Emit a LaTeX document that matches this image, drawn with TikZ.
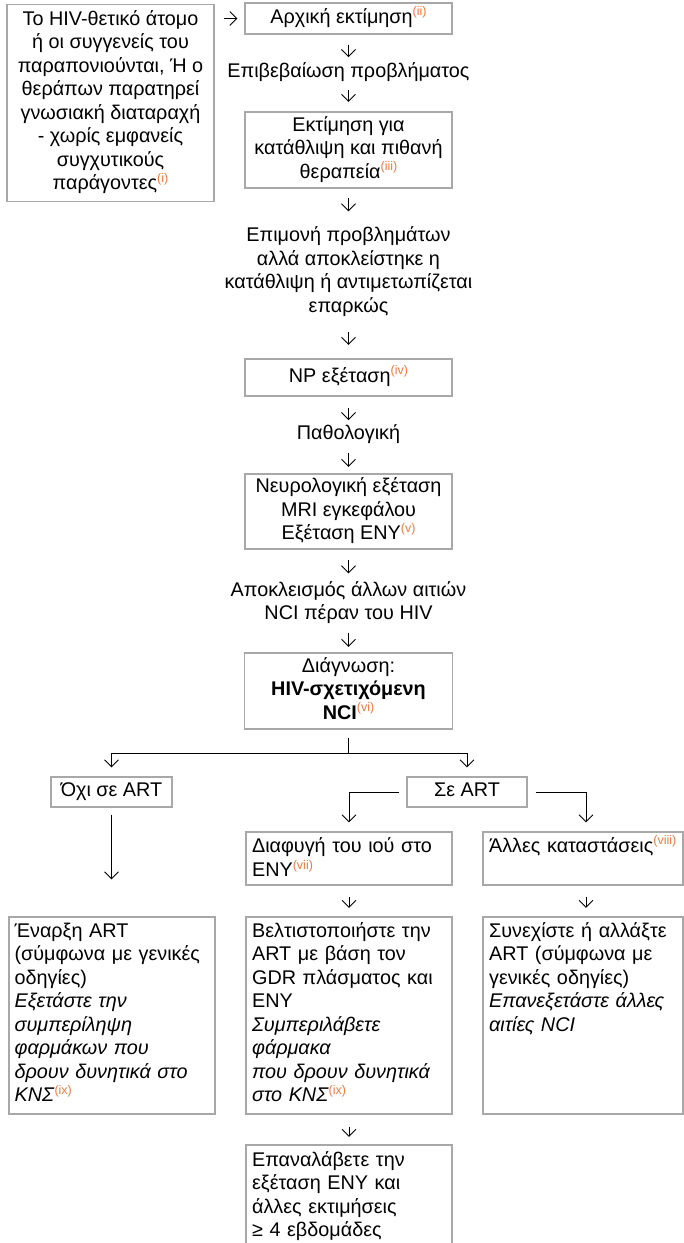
\documentclass[tikz,border=0pt]{standalone}
\usepackage{fontspec}
\setmainfont{Liberation Sans}
\usetikzlibrary{arrows.meta}
\definecolor{notec}{RGB}{240,120,60}
\definecolor{edgec}{RGB}{168,168,168}
\newcommand{\mainfs}{\fontsize{19.8}{23.5}\selectfont}
\newcommand{\refmk}[1]{\raisebox{7.5pt}{\fontsize{12.5}{12.5}\selectfont\color{notec}(#1)}}
\tikzset{
  box/.style={draw=edgec, line width=1.2pt, inner sep=1pt, align=center, font=\mainfs},
  plain/.style={inner sep=0pt, align=center, font=\mainfs},
  ltext/.style={inner sep=0pt, align=left, anchor=north west, font=\mainfs},
  arr/.style={draw=black, line width=0.9pt, -{Straight Barb[length=7pt,width=14pt]}},
  ln/.style={draw=black, line width=0.9pt},
}
\begin{document}
\begin{tikzpicture}[x=1pt, y=-1pt]
\useasboundingbox (0,0) rectangle (684,1243);

% main column
\node[box, minimum width=207pt, minimum height=197pt] (b1) at (110.5,103)
  {\strut Το HIV-θετικό άτομο\\ή οι συγγενείς του\\παραπονιούνται, Ή ο\\θεράπων παρατηρεί\\γνωσιακή διαταραχή\\- χωρίς εμφανείς\\συγχυτικούς\\παράγοντες\refmk{i}\strut};
\node[box, minimum width=207pt, minimum height=31pt] (b2) at (348.5,18.5)
  {\strut Αρχική εκτίμηση\refmk{ii}};
\node[plain] (t1) at (348.5,73) {\strut Επιβεβαίωση προβλήματος};
\node[box, minimum width=207pt, minimum height=76pt] (b3) at (348.5,150)
  {\strut Εκτίμηση για\\κατάθλιψη και πιθανή\\θεραπεία\refmk{iii}\strut};
\node[plain] (t2) at (348.5,272.5)
  {\strut Επιμονή προβλημάτων\\αλλά αποκλείστηκε η\\κατάθλιψη ή αντιμετωπίζεται\\επαρκώς\strut};
\node[box, minimum width=207pt, minimum height=37pt] (b4) at (348.5,377.5)
  {\strut NP εξέταση\refmk{iv}};
\node[plain] (t3) at (348.5,435) {\strut Παθολογική};
\node[box, minimum width=207pt, minimum height=75pt] (b5) at (348.5,511.5)
  {\strut Νευρολογική εξέταση\\MRI εγκεφάλου\\Εξέταση ΕΝΥ\refmk{v}\strut};
\node[plain] (t4) at (348.5,603.5)
  {\strut Αποκλεισμός άλλων αιτιών\\NCI πέραν του HIV\strut};
\node[box, minimum width=208pt, minimum height=76pt] (b6) at (348.5,691)
  {\strut Διάγνωση:\\\textbf{HIV-σχετιχόμενη}\\\textbf{NCI}\refmk{vi}\strut};

% branches
\node[box, minimum width=121pt, minimum height=30pt] (b7) at (111.5,792) {\strut Όχι σε ART};
\node[box, minimum width=120pt, minimum height=30pt] (b8) at (467,792) {\strut Σε ART};
\node[box, minimum width=206pt, minimum height=53pt] (b9) at (349,858.5) {};
\node[box, minimum width=200pt, minimum height=53pt] (b10) at (583,858.5) {};
\node[box, minimum width=206pt, minimum height=197pt] (b11) at (112,1015.5) {};
\node[box, minimum width=206pt, minimum height=197pt] (b12) at (349,1015.5) {};
\node[box, minimum width=200pt, minimum height=197pt] (b13) at (583,1015.5) {};
\node[box, minimum width=206pt, minimum height=120pt] (b14) at (349,1205) {};

% left-aligned texts of the lower boxes
\node[ltext, text width=198pt] (x9) at ([xshift=6.5pt,yshift=-4pt]b9.north west)
  {\strut Διαφυγή του ιού στο\\ΕΝΥ\refmk{vii}\strut};
\node[ltext, text width=192pt] (x10) at ([xshift=6.5pt,yshift=-4pt]b10.north west)
  {\strut Άλλες καταστάσεις\refmk{viii}\strut};
\node[ltext, text width=198pt] (x11) at ([xshift=6pt,yshift=-4pt]b11.north west)
  {\strut Έναρξη ART\\(σύμφωνα με γενικές\\οδηγίες)\\\textit{Εξετάστε την}\\\textit{συμπερίληψη}\\\textit{φαρμάκων που}\\\textit{δρουν δυνητικά στο}\\\textit{ΚΝΣ}\refmk{ix}\strut};
\node[ltext, text width=198pt] (x12) at ([xshift=6.5pt,yshift=-4pt]b12.north west)
  {\strut Βελτιστοποιήστε την\\ART με βάση τον\\GDR πλάσματος και\\ΕΝΥ\\\textit{Συμπεριλάβετε}\\\textit{φάρμακα}\\\textit{που δρουν δυνητικά}\\\textit{στο ΚΝΣ}\refmk{ix}\strut};
\node[ltext, text width=192pt] (x13) at ([xshift=6.5pt,yshift=-4pt]b13.north west)
  {\strut Συνεχίστε ή αλλάξτε\\ART (σύμφωνα με\\γενικές οδηγίες)\\\textit{Επανεξετάστε άλλες}\\\textit{αιτίες NCI}\strut};
\node[ltext, text width=198pt] (x14) at ([xshift=6.5pt,yshift=-5pt]b14.north west)
  {\strut Επαναλάβετε την\\εξέταση ΕΝΥ και\\άλλες εκτιμήσεις\\≥ 4 εβδομάδες\strut};

% short arrows of the main column
\draw[arr, shorten <=9pt, shorten >=7pt] (b1.east |- b2.west) -- (b2.west);
\draw[arr, shorten <=10pt, shorten >=4pt] (b2.south) -- (t1.north);
\draw[arr, shorten <=5pt, shorten >=9.5pt] (t1.south) -- (b3.north);
\draw[arr, shorten <=9.5pt, shorten >=14pt] (b3.south) -- (t2.north);
\draw[arr, shorten <=12.5pt, shorten >=13.5pt] (t2.south) -- (b4.north);
\draw[arr, shorten <=11.5pt, shorten >=3pt] (b4.south) -- (t3.north);
\draw[arr, shorten <=6pt, shorten >=6.5pt] (t3.south) -- (b5.north);
\draw[arr, shorten <=10.5pt, shorten >=6.5pt] (b5.south) -- (t4.north);
\draw[arr, shorten <=5.5pt, shorten >=5.5pt] (t4.south) -- (b6.north);

% branching
\coordinate (fork) at (348.5,753);
\draw[ln, shorten <=8pt] (b6.south) -- (fork);
\draw[arr, shorten >=9pt] (fork) -| (b7.north);
\draw[arr, shorten >=9pt] (fork) -| (b8.north);
\draw[arr, shorten <=7pt, shorten >=37pt] (b7.south) -- (b7.south |- b11.north);
\draw[arr, shorten <=7pt, shorten >=9pt] (b8.west) -| (b9.north);
\draw[arr, shorten <=8pt, shorten >=9pt] (b8.east) -| ([xshift=3pt]b10.north);
\draw[arr, shorten <=11.5pt, shorten >=8.5pt] (b9.south) -- (b12.north);
\draw[arr, shorten <=11.5pt, shorten >=8.5pt] ([xshift=3pt]b10.south) -- ([xshift=3pt]b13.north);
\draw[arr, shorten <=12.5pt, shorten >=7.5pt] (b12.south) -- (b14.north);
\end{tikzpicture}
\end{document}
